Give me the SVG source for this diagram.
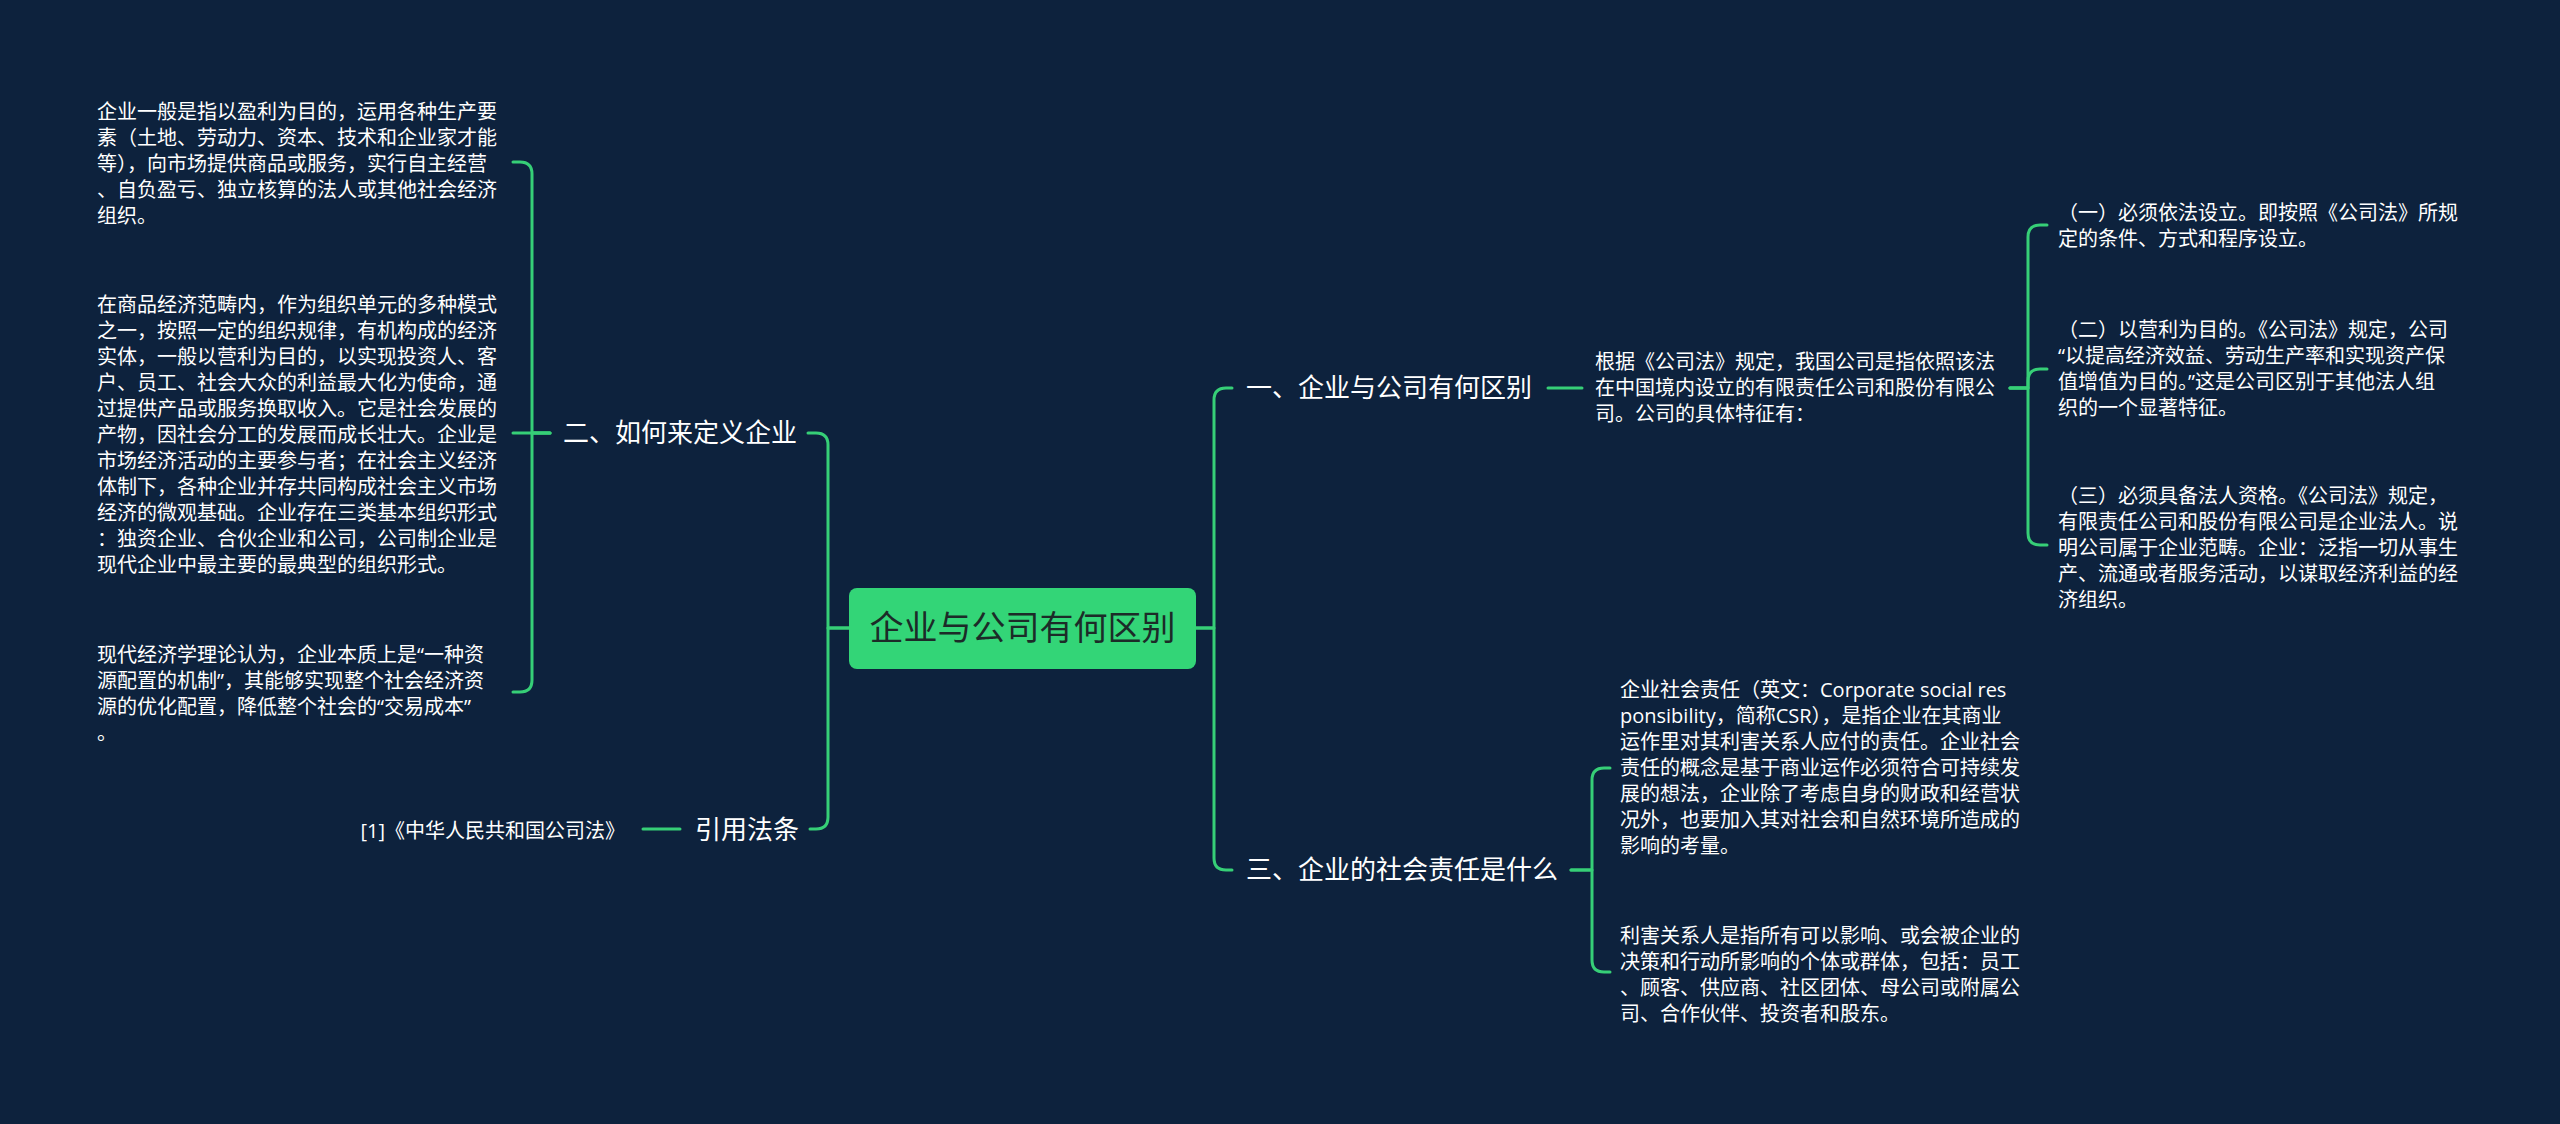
<svg xmlns="http://www.w3.org/2000/svg" width="2560" height="1124" viewBox="0 0 2560 1124">
<style>
.bg{fill:#0d223d}
.ln{fill:none;stroke:#36cf77;stroke-width:3;stroke-linecap:round;stroke-linejoin:round}
.t{font-family:"Open Sans","Noto Sans CJK SC",sans-serif;fill:#ffffff}
.leaf{font-size:20px}
.lab{font-size:26px}
.root{font-size:34px;fill:#1c2b28}
</style>
<rect class="bg" x="0" y="0" width="2560" height="1124"/>
<g id="connectors">
<path class="ln" d="M849 628 H828 V445 Q828 433 816 433 H808"/>
<path class="ln" d="M849 628 H828 V817 Q828 829 816 829 H810"/>
<path class="ln" d="M1196 628 H1214 V400 Q1214 388 1226 388 H1232"/>
<path class="ln" d="M1196 628 H1214 V858 Q1214 870 1226 870 H1232"/>
<path class="ln" d="M550 433 H532 V174 Q532 162 520 162 H513"/>
<path class="ln" d="M550 433 H513"/>
<path class="ln" d="M550 433 H532 V680 Q532 692 520 692 H513"/>
<path class="ln" d="M680 829 H643"/>
<path class="ln" d="M1548 388 H1582"/>
<path class="ln" d="M2010 388 H2028 V237 Q2028 225 2040 225 H2047"/>
<path class="ln" d="M2010 388 H2028 V381 Q2028 369 2040 369 H2047"/>
<path class="ln" d="M2010 388 H2028 V533 Q2028 545 2040 545 H2047"/>
<path class="ln" d="M1571 870 H1592 V780 Q1592 768 1604 768 H1610"/>
<path class="ln" d="M1571 870 H1592 V960 Q1592 972 1604 972 H1610"/>
</g>
<g id="root">
<rect x="849" y="588" width="347" height="81" rx="8" fill="#33d577"/>
<text class="t root" x="1022.5" y="640" text-anchor="middle">企业与公司有何区别</text>
</g>
<g id="n-define">
<text class="t lab" x="563" y="442">二、如何来定义企业</text>
</g>
<g id="n-define-1">
<text class="t leaf"><tspan x="97" y="119">企业一般是指以盈利为目的，运用各种生产要</tspan><tspan x="97" y="145">素（土地、劳动力、资本、技术和企业家才能</tspan><tspan x="97" y="171">等），向市场提供商品或服务，实行自主经营</tspan><tspan x="97" y="197">、自负盈亏、独立核算的法人或其他社会经济</tspan><tspan x="97" y="223">组织。</tspan></text>
</g>
<g id="n-define-2">
<text class="t leaf"><tspan x="97" y="312">在商品经济范畴内，作为组织单元的多种模式</tspan><tspan x="97" y="338">之一，按照一定的组织规律，有机构成的经济</tspan><tspan x="97" y="364">实体，一般以营利为目的，以实现投资人、客</tspan><tspan x="97" y="390">户、员工、社会大众的利益最大化为使命，通</tspan><tspan x="97" y="416">过提供产品或服务换取收入。它是社会发展的</tspan><tspan x="97" y="442">产物，因社会分工的发展而成长壮大。企业是</tspan><tspan x="97" y="468">市场经济活动的主要参与者；在社会主义经济</tspan><tspan x="97" y="494">体制下，各种企业并存共同构成社会主义市场</tspan><tspan x="97" y="520">经济的微观基础。企业存在三类基本组织形式</tspan><tspan x="97" y="546">：独资企业、合伙企业和公司，公司制企业是</tspan><tspan x="97" y="572">现代企业中最主要的最典型的组织形式。</tspan></text>
</g>
<g id="n-define-3">
<text class="t leaf"><tspan x="97" y="662">现代经济学理论认为，企业本质上是“一种资</tspan><tspan x="97" y="688">源配置的机制”，其能够实现整个社会经济资</tspan><tspan x="97" y="714">源的优化配置，降低整个社会的“交易成本”</tspan><tspan x="97" y="740">。</tspan></text>
</g>
<g id="n-law">
<text class="t lab" x="695" y="839">引用法条</text>
</g>
<g id="n-law-1">
<text class="t leaf" x="625" y="838" text-anchor="end">[1]《中华人民共和国公司法》</text>
</g>
<g id="n-diff">
<text class="t lab" x="1246" y="397">一、企业与公司有何区别</text>
</g>
<g id="n-diff-1">
<text class="t leaf"><tspan x="1595" y="369">根据《公司法》规定，我国公司是指依照该法</tspan><tspan x="1595" y="395">在中国境内设立的有限责任公司和股份有限公</tspan><tspan x="1595" y="421">司。公司的具体特征有：</tspan></text>
</g>
<g id="n-diff-1-1">
<text class="t leaf"><tspan x="2058" y="220">（一）必须依法设立。即按照《公司法》所规</tspan><tspan x="2058" y="246">定的条件、方式和程序设立。</tspan></text>
</g>
<g id="n-diff-1-2">
<text class="t leaf"><tspan x="2058" y="337">（二）以营利为目的。《公司法》规定，公司</tspan><tspan x="2058" y="363">“以提高经济效益、劳动生产率和实现资产保</tspan><tspan x="2058" y="389">值增值为目的。”这是公司区别于其他法人组</tspan><tspan x="2058" y="415">织的一个显著特征。</tspan></text>
</g>
<g id="n-diff-1-3">
<text class="t leaf"><tspan x="2058" y="503">（三）必须具备法人资格。《公司法》规定，</tspan><tspan x="2058" y="529">有限责任公司和股份有限公司是企业法人。说</tspan><tspan x="2058" y="555">明公司属于企业范畴。企业：泛指一切从事生</tspan><tspan x="2058" y="581">产、流通或者服务活动，以谋取经济利益的经</tspan><tspan x="2058" y="607">济组织。</tspan></text>
</g>
<g id="n-csr">
<text class="t lab" x="1246" y="879">三、企业的社会责任是什么</text>
</g>
<g id="n-csr-1">
<text class="t leaf"><tspan x="1620" y="697">企业社会责任（英文：Corporate social res</tspan><tspan x="1620" y="723">ponsibility，简称CSR），是指企业在其商业</tspan><tspan x="1620" y="749">运作里对其利害关系人应付的责任。企业社会</tspan><tspan x="1620" y="775">责任的概念是基于商业运作必须符合可持续发</tspan><tspan x="1620" y="801">展的想法，企业除了考虑自身的财政和经营状</tspan><tspan x="1620" y="827">况外，也要加入其对社会和自然环境所造成的</tspan><tspan x="1620" y="853">影响的考量。</tspan></text>
</g>
<g id="n-csr-2">
<text class="t leaf"><tspan x="1620" y="943">利害关系人是指所有可以影响、或会被企业的</tspan><tspan x="1620" y="969">决策和行动所影响的个体或群体，包括：员工</tspan><tspan x="1620" y="995">、顾客、供应商、社区团体、母公司或附属公</tspan><tspan x="1620" y="1021">司、合作伙伴、投资者和股东。</tspan></text>
</g>
</svg>
